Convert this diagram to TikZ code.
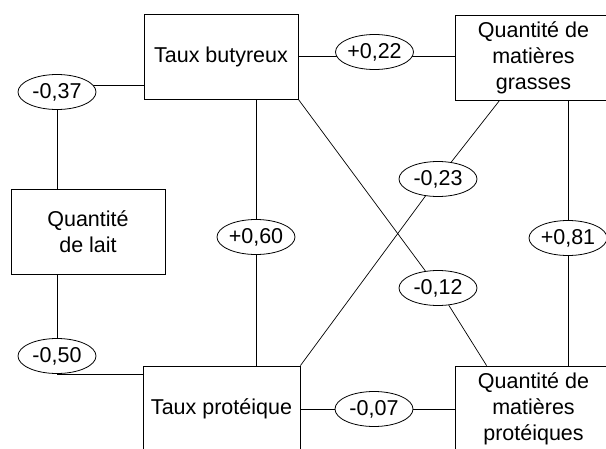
\documentclass[tikz,border=0pt]{standalone}
\usepackage{fontspec}
\setmainfont{Liberation Sans}
\usetikzlibrary{backgrounds,shapes.geometric}
\begin{document}
\begin{tikzpicture}[x=1pt,y=-1pt,
  font=\fontsize{21.5}{26}\selectfont,
  line width=0.8pt,
  box/.style={draw, rectangle, inner sep=0pt, align=center, fill=white},
  coef/.style={draw, ellipse, fill=white, minimum width=78pt, minimum height=35pt, inner sep=0pt},
  link/.style={draw, line width=0.7pt}]
\useasboundingbox (0,0) rectangle (606,448);
\clip (0,0) rectangle (606,448);
% variables
\node[box, minimum width=154pt, minimum height=85pt] (TB) at (221,56.5) {Taux butyreux};
\node[box, minimum width=157pt, minimum height=85pt] (QMG) at (533.5,57.5) {Quantité de\\matières\\grasses};
\node[box, minimum width=154pt, minimum height=85pt] (QL) at (88,231.5) {Quantité\\de lait};
\node[box, minimum width=157pt, minimum height=86pt] (TP) at (221.5,409) {Taux protéique};
\node[box, minimum width=157pt, minimum height=86pt] (QMP) at (533.5,409) {Quantité de\\matières\\protéiques};
% coefficients
\node[coef] (e037) at (57,92) {-0,37};
\node[coef] (e022) at (374.5,52) {+0,22};
\node[coef] (e023) at (438,179) {-0,23};
\node[coef] (e060) at (256,237) {+0,60};
\node[coef] (e081) at (568,238) {+0,81};
\node[coef] (e012) at (438,288) {-0,12};
\node[coef] (e050) at (57,356) {-0,50};
\node[coef] (e007) at (374,409) {-0,07};
% anchor points on the boxes
\coordinate (tbL) at ([yshift=14pt]TB.south west);
\coordinate (tpL) at ([yshift=-9pt]TP.north west);
\coordinate (qmgB) at ([xshift=45pt]QMG.south west);
\coordinate (qmpT) at ([xshift=32pt]QMP.north west);
\begin{scope}[on background layer]
  \path[link] (tbL) -- (tbL -| e037);
  \path[link] (e037) -- (e037 |- QL.north);
  \path[link] (e050 |- QL.south) -- (e050);
  \path[link] (e050 |- tpL) -- (tpL);
  \path[link] (TB.east) -- (TB.east -| QMG.west);
  \path[link] (e060 |- TB.south) -- (e060 |- TP.north);
  \path[link] (e081 |- QMG.south) -- (e081 |- QMP.north);
  \path[link] (TB.south east) -- (e012) -- (qmpT);
  \path[link] (qmgB) -- (e023) -- (TP.north east);
  \path[link] (TP.east) -- (TP.east -| QMP.west);
\end{scope}
\end{tikzpicture}
\end{document}
